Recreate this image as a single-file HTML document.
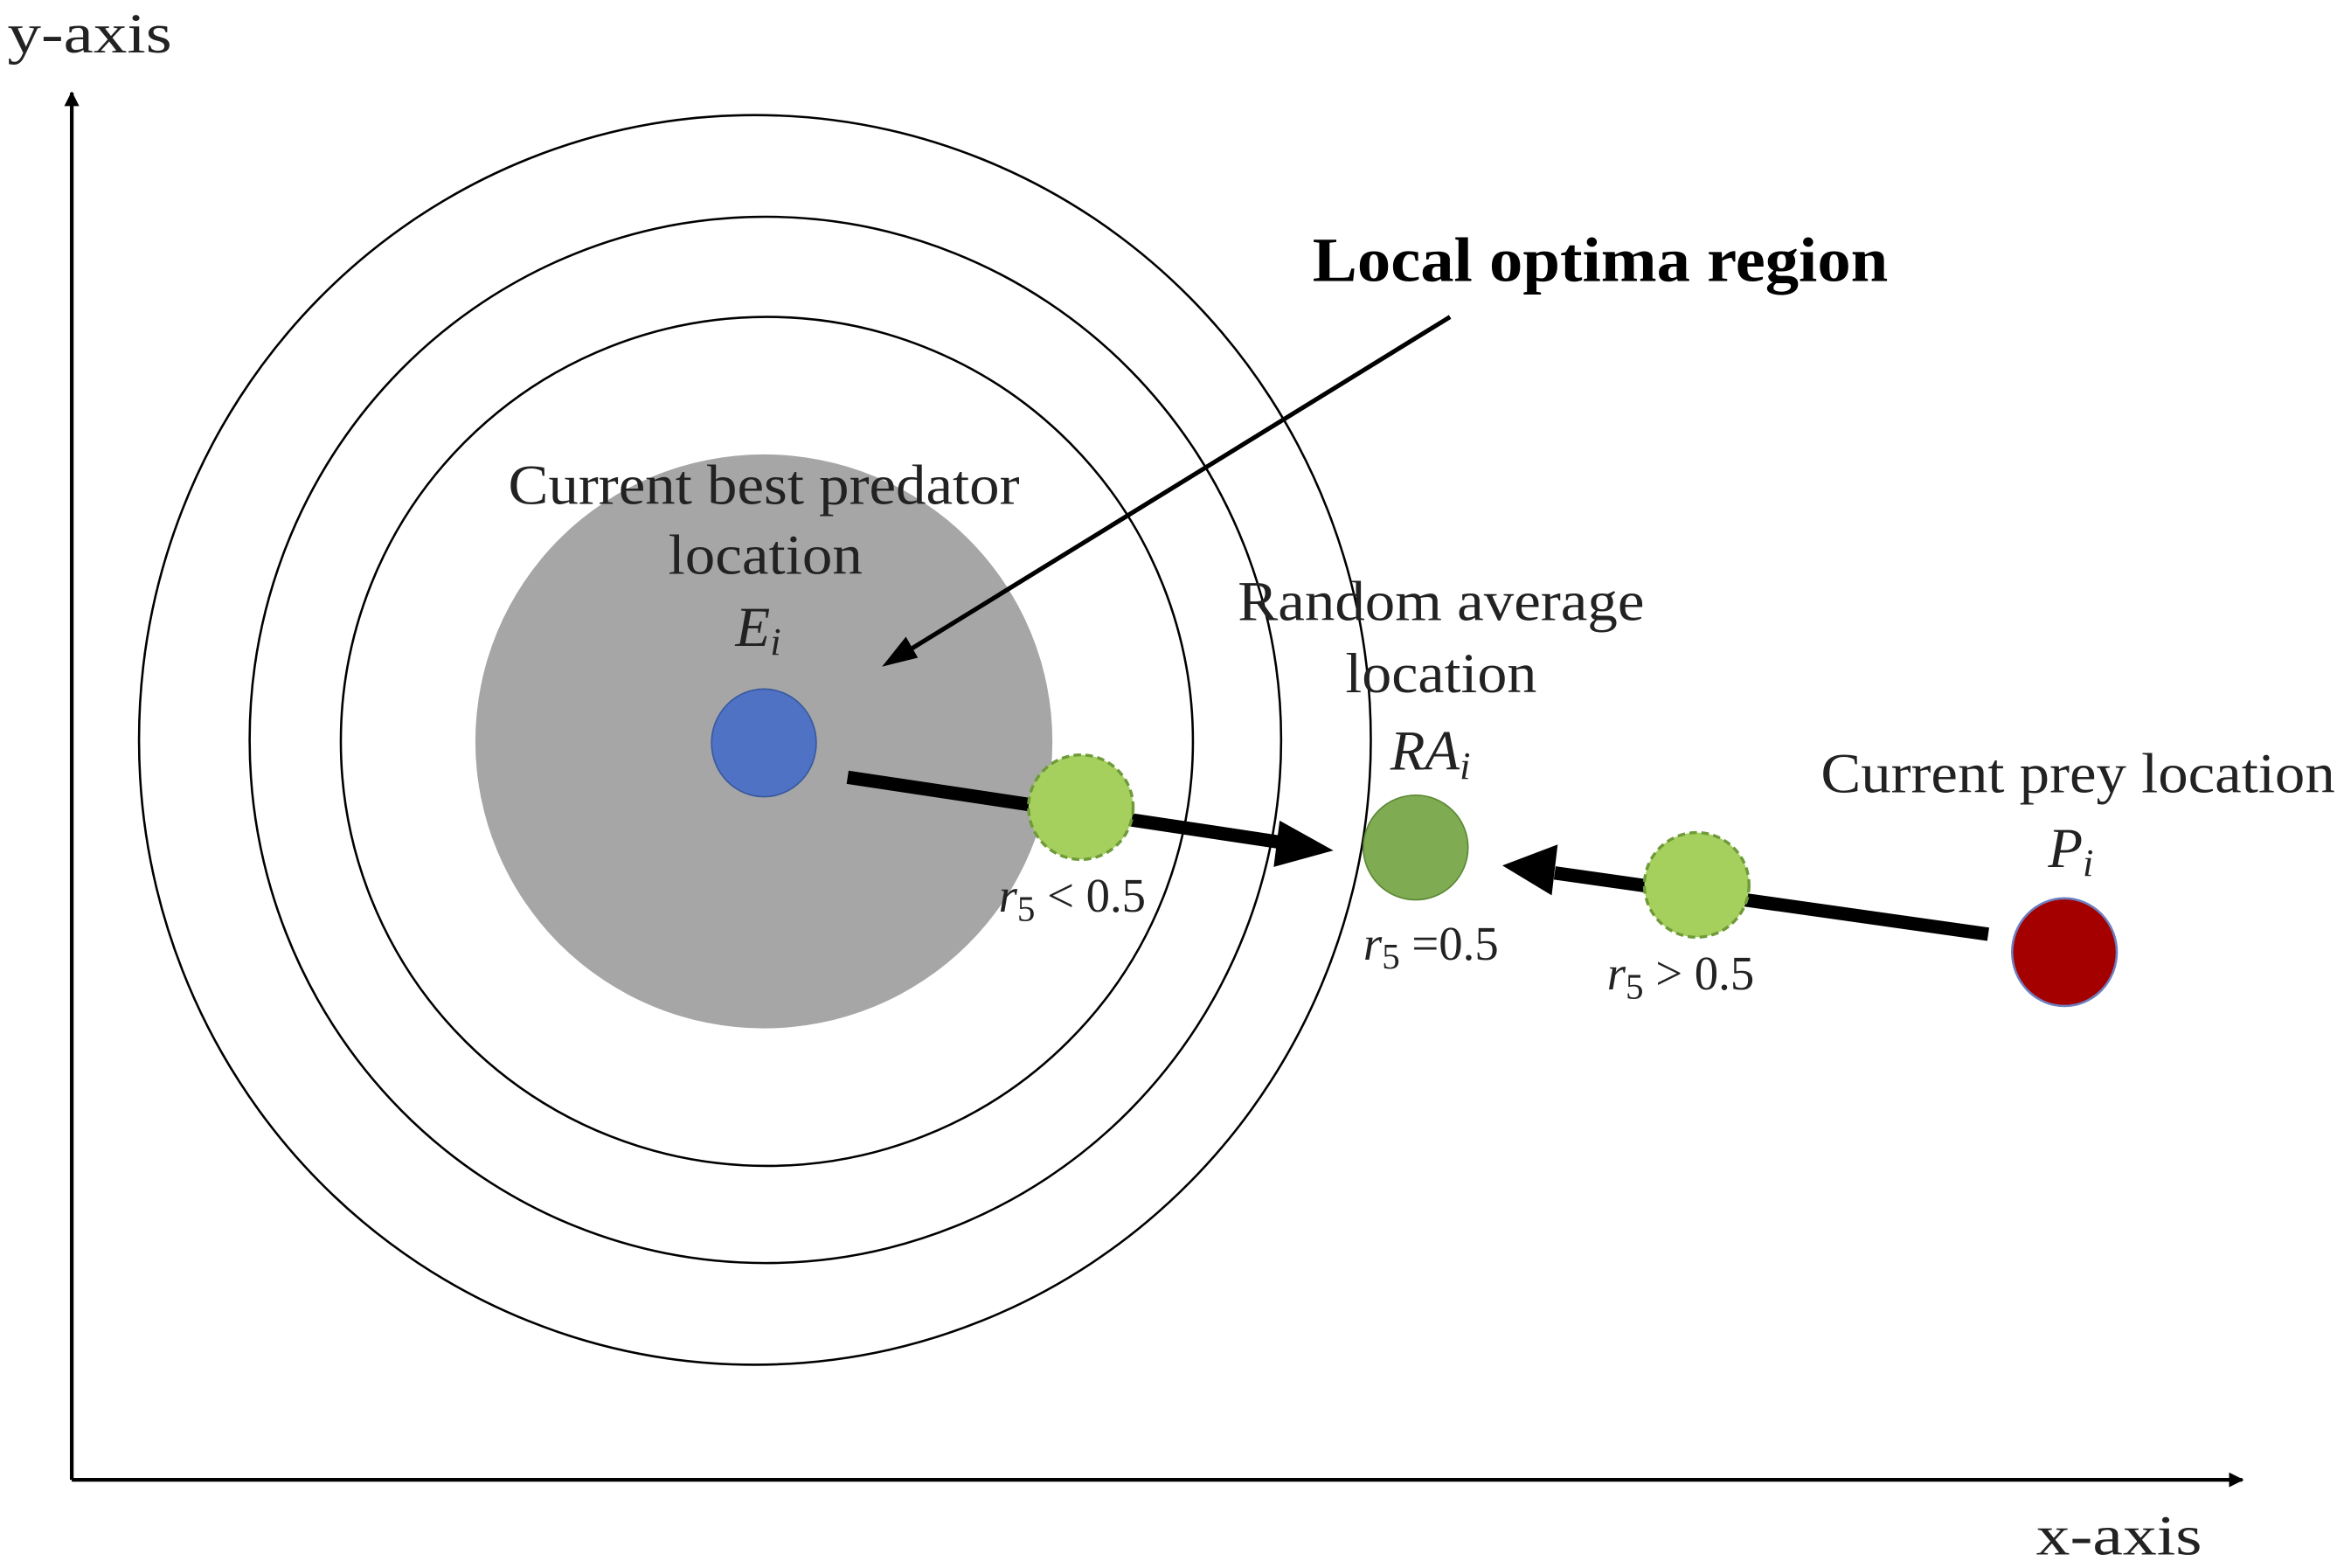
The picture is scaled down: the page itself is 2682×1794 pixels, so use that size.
<!DOCTYPE html>
<html><head><style>html,body{margin:0;padding:0;background:#fff;}svg{display:block}</style></head>
<body>
<svg width="2682" height="1794" viewBox="0 0 1568 1049" preserveAspectRatio="none" xmlns="http://www.w3.org/2000/svg" font-family="Liberation Serif, serif">
<defs>
<marker id="a" markerWidth="10" markerHeight="10" refX="9" refY="5" orient="auto" markerUnits="userSpaceOnUse"><path d="M0,0 L10,5 L0,10 z" fill="#000"/></marker>
</defs>
<line x1="48" y1="990" x2="48" y2="62" stroke="#000" stroke-width="2.5" marker-end="url(#a)"/>
<line x1="48" y1="990" x2="1500" y2="990" stroke="#000" stroke-width="2.5" marker-end="url(#a)"/>
<ellipse cx="505" cy="495" rx="412" ry="418" fill="none" stroke="#000" stroke-width="1.5"/>
<ellipse cx="512" cy="495" rx="345" ry="350" fill="none" stroke="#000" stroke-width="1.5"/>
<ellipse cx="513" cy="496" rx="285" ry="284" fill="none" stroke="#000" stroke-width="1.5"/>
<ellipse cx="511" cy="496" rx="193" ry="192" fill="#a6a6a6"/>
<ellipse cx="511" cy="497" rx="35" ry="36" fill="#4f72c4" stroke="#3a5aa0" stroke-width="1"/>
<line x1="970" y1="212" x2="600" y2="440" stroke="#000" stroke-width="3"/>
<path d="M590,446 L606,426 L614,440 z" fill="#000"/>
<line x1="567" y1="520" x2="860" y2="564" stroke="#000" stroke-width="9"/>
<path d="M892,569 L856,549 L852,580 z" fill="#000"/>
<line x1="1330" y1="625" x2="1040" y2="584" stroke="#000" stroke-width="9"/>
<path d="M1005,579 L1042,565 L1038,599 z" fill="#000"/>
<ellipse cx="723" cy="540" rx="35" ry="35" fill="#a6d05e" stroke="#6f9a3a" stroke-width="2" stroke-dasharray="5,3"/>
<ellipse cx="947" cy="567" rx="35" ry="35" fill="#7fab52" stroke="#5e8a38" stroke-width="1"/>
<ellipse cx="1135" cy="592" rx="35" ry="35" fill="#a6d05e" stroke="#6f9a3a" stroke-width="2" stroke-dasharray="5,3"/>
<ellipse cx="1381" cy="637" rx="35" ry="36" fill="#a50000" stroke="#6d7fc0" stroke-width="1.5"/>
<g fill="#222" font-size="38" lengthAdjust="spacingAndGlyphs">
<text x="878" y="188" font-weight="bold" font-size="42" fill="#000" textLength="385" lengthAdjust="spacingAndGlyphs">Local optima region</text>
<text x="340" y="337" textLength="342" lengthAdjust="spacingAndGlyphs">Current best predator</text>
<text x="447" y="384" textLength="130" lengthAdjust="spacingAndGlyphs">location</text>
<text x="492" y="432" font-style="italic">E<tspan font-size="26" dy="6">i</tspan></text>
<text x="828" y="415" textLength="272" lengthAdjust="spacingAndGlyphs">Random average</text>
<text x="900" y="463" textLength="128" lengthAdjust="spacingAndGlyphs">location</text>
<text x="930" y="515" font-style="italic">RA<tspan font-size="26" dy="6">i</tspan></text>
<text x="1218" y="530" textLength="344" lengthAdjust="spacingAndGlyphs">Current prey location</text>
<text x="1370" y="580" font-style="italic">P<tspan font-size="26" dy="6">i</tspan></text>
<text x="5" y="35" textLength="110" lengthAdjust="spacingAndGlyphs">y-axis</text>
<text x="1362" y="1040" textLength="111" lengthAdjust="spacingAndGlyphs">x-axis</text>
</g>
<g fill="#222" font-size="32">
<text x="668" y="610"><tspan font-style="italic">r</tspan><tspan font-size="24" dy="6">5</tspan><tspan dy="-6"> &lt; 0.5</tspan></text>
<text x="912" y="642"><tspan font-style="italic">r</tspan><tspan font-size="24" dy="6">5</tspan><tspan dy="-6"> =0.5</tspan></text>
<text x="1075" y="662"><tspan font-style="italic">r</tspan><tspan font-size="24" dy="6">5</tspan><tspan dy="-6"> &gt; 0.5</tspan></text>
</g>
</svg>
</body></html>
